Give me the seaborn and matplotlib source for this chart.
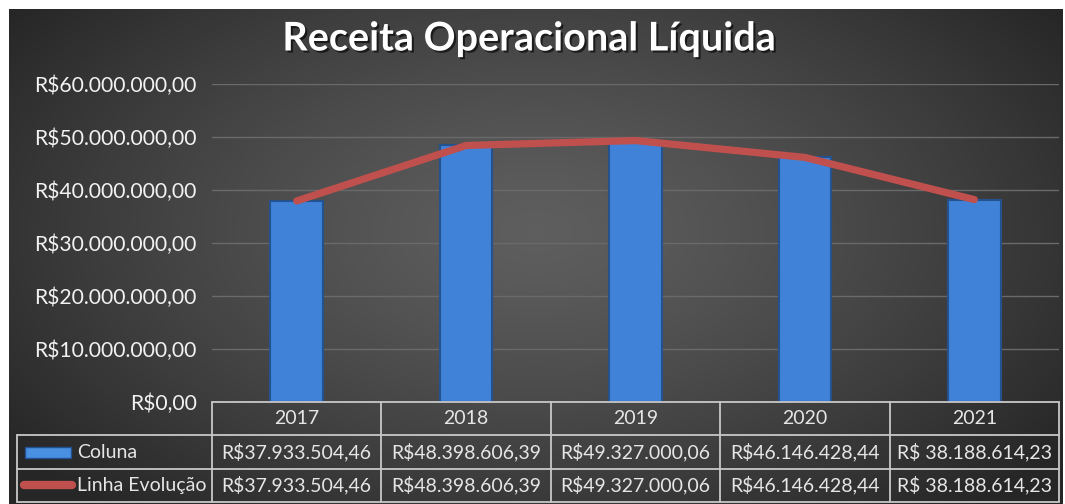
import numpy as np
import pandas as pd
import seaborn as sns
import matplotlib.pyplot as plt
import matplotlib.patheffects as pe
from matplotlib.transforms import blended_transform_factory
from matplotlib.patches import Rectangle
from matplotlib.lines import Line2D

sns.set_style('dark')
plt.rcParams['font.family'] = ['Lato', 'DejaVu Sans']

# dados
anos = ['2017', '2018', '2019', '2020', '2021']
receita = [37933504.46, 48398606.39, 49327000.06, 46146428.44, 38188614.23]
rotulos_tabela = ['R$37.933.504,46', 'R$48.398.606,39', 'R$49.327.000,06',
                  'R$46.146.428,44', 'R$ 38.188.614,23']
series = ['Coluna', 'Linha Evolução']
ticks_y = [0, 10e6, 20e6, 30e6, 40e6, 50e6, 60e6]
ticks_lbl = ['R$0,00', 'R$10.000.000,00', 'R$20.000.000,00', 'R$30.000.000,00',
             'R$40.000.000,00', 'R$50.000.000,00', 'R$60.000.000,00']

df = pd.DataFrame({'ano': anos, 'receita': receita})

W, H = 1065, 504
fig = plt.figure(figsize=(W / 100, H / 100), dpi=100)
fig.patch.set_facecolor('white')

# fundo com gradiente radial
bg = fig.add_axes([9 / W, 0, (W - 2 - 9) / W, (H - 9) / H])
yy, xx = np.mgrid[0:1:300j, 0:1:600j]
r = np.sqrt(((xx - 0.5) / 0.62) ** 2 + ((yy - 0.45) / 0.75) ** 2)
r = np.clip(r, 0, 1)
grad = 0.37 - 0.22 * r ** 1.3
bg.imshow(np.dstack([grad, grad, grad]), aspect='auto', extent=[0, 1, 0, 1])
bg.set_axis_off()

ax = fig.add_axes([212 / W, (H - 402) / H, 847 / W, 318 / H])
ax.set_facecolor('none')

sns.barplot(data=df, x='ano', y='receita', color='#3f82d8', width=0.31,
            edgecolor='#24528f', linewidth=1.5, saturation=1, ax=ax, zorder=3)
sns.lineplot(x=np.arange(len(anos)), y=receita, color='#c0504d', linewidth=5.2,
             ax=ax, zorder=4, solid_capstyle='round')

ax.set_xlim(-0.5, len(anos) - 0.5)
ax.set_ylim(0, 60e6)
ax.set_yticks(ticks_y)
ax.set_yticklabels(ticks_lbl, color='#f2f2f2', fontsize=15.2)
ax.tick_params(axis='y', length=0, pad=11)
ax.set_xticks([])
ax.set_xlabel('')
ax.set_ylabel('')
ax.grid(axis='y', color='#6a6a6a', linewidth=1)
ax.grid(axis='x', visible=False)
for s in ax.spines.values():
    s.set_visible(False)

fig.text(0.497, (H - 39) / H, 'Receita Operacional Líquida', ha='center', va='center',
         fontsize=28.5, fontweight='bold', color='white',
         path_effects=[pe.withSimplePatchShadow(offset=(1.5, -1.5), shadow_rgbFace='black', alpha=0.6)])

# tabela de dados
tr = blended_transform_factory(ax.transData, fig.transFigure)
linha_cor = '#c8c8c8'
rows = [(H - 402) / H, (H - 435) / H, (H - 469) / H, (H - 502) / H]
n = len(anos)
# linhas horizontais
fig.add_artist(Line2D([-0.5, n - 0.5], [rows[0]] * 2, transform=tr, color=linha_cor, lw=1.3))
for yv in rows[1:]:
    fig.add_artist(Line2D([17 / W, 1059 / W], [yv] * 2, transform=fig.transFigure,
                          color=linha_cor, lw=1.3))
# linhas verticais
for i in range(n + 1):
    fig.add_artist(Line2D([i - 0.5] * 2, [rows[0], rows[3]], transform=tr, color=linha_cor, lw=1.3))
fig.add_artist(Line2D([17 / W] * 2, [rows[1], rows[3]], transform=fig.transFigure,
                      color=linha_cor, lw=1.3))

txt_cor = '#e6e6e6'
for i, a in enumerate(anos):
    fig.text(i, (rows[0] + rows[1]) / 2, a, transform=tr, ha='center', va='center',
             color=txt_cor, fontsize=14)
    for k in range(2):
        fig.text(i, (rows[k + 1] + rows[k + 2]) / 2, rotulos_tabela[i], transform=tr,
                 ha='center', va='center', color=txt_cor, fontsize=14)

# legenda na tabela
fig.add_artist(Rectangle((25 / W, (H - 458) / H), 46 / W, 11 / H, transform=fig.transFigure,
                         facecolor='#4a90e2', edgecolor='#23508f', lw=1))
fig.add_artist(Line2D([24 / W, 72 / W], [(H - 485) / H] * 2, transform=fig.transFigure,
                      color='#c0504d', lw=6, solid_capstyle='round'))
fig.text(77 / W, (rows[1] + rows[2]) / 2, series[0], ha='left', va='center',
         color=txt_cor, fontsize=14)
fig.text(77 / W, (rows[2] + rows[3]) / 2, series[1], ha='left', va='center',
         color=txt_cor, fontsize=14)

fig.savefig('out.png', dpi=100, facecolor=fig.get_facecolor())
